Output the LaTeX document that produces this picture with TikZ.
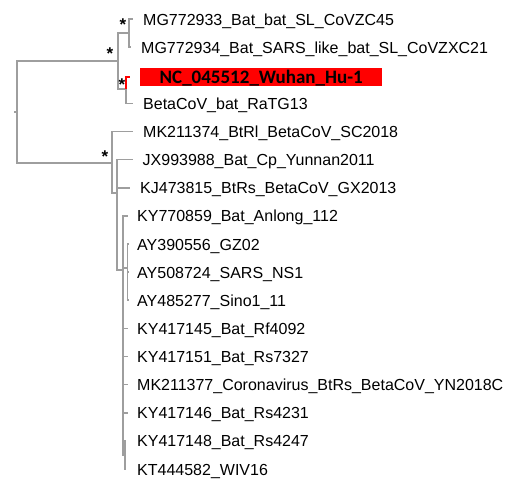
\documentclass[tikz,border=0pt]{standalone}
\usepackage{fontspec}
\setmainfont{Liberation Sans}
\newfontfamily\hlfont{Carlito}
\usepackage{tikz}
\usetikzlibrary{calc}
\definecolor{treegray}{RGB}{158,158,158}
\definecolor{hlred}{RGB}{255,0,0}
\tikzstyle{taxon} = [
  anchor=west, inner sep=0pt, text height=12pt, text depth=0pt,
  font=\fontsize{16}{18}\selectfont
]
\tikzstyle{branch} = [draw=treegray, line width=1.6pt]
\tikzstyle{tip} = [branch, shorten >=10pt]
\tikzstyle{boot} = [inner sep=0pt, font=\fontsize{17}{17}\selectfont\bfseries]

\begin{document}
\begin{tikzpicture}[x=1pt, y=-1pt]
  \useasboundingbox (0,0) rectangle (509,479);

  % taxa, upper clade
  \node[taxon] (mgA) at (143, 19) {MG772933\_Bat\_bat\_SL\_CoVZC45};
  \node[taxon] (mgB) at (141, 47.125) {MG772934\_Bat\_SARS\_like\_bat\_SL\_CoVZXC21};
  \node[taxon, fill=hlred, minimum width=242pt, minimum height=18pt,
        font=\hlfont\fontsize{19}{19}\selectfont\bfseries] (nc) at (140, 77) {NC\_045512\_Wuhan\_Hu-1};
  \node[taxon] (ratg) at (143, 103.375) {BetaCoV\_bat\_RaTG13};

  % taxa, lower clade
  \node[taxon] (mk) at (143, 131.5) {MK211374\_BtRl\_BetaCoV\_SC2018};
  \node[taxon] (jx) at (142.5, 159.625) {JX993988\_Bat\_Cp\_Yunnan2011};
  \node[taxon] (kj) at (140, 187.75) {KJ473815\_BtRs\_BetaCoV\_GX2013};
  \foreach \name/\row/\lab in {
      anlong/8/KY770859\_Bat\_Anlong\_112,
      gz/9/AY390556\_GZ02,
      ns/10/AY508724\_SARS\_NS1,
      sino/11/AY485277\_Sino1\_11,
      rf/12/KY417145\_Bat\_Rf4092,
      rsa/13/KY417151\_Bat\_Rs7327,
      yn/14/MK211377\_Coronavirus\_BtRs\_BetaCoV\_YN2018C,
      rsb/15/KY417146\_Bat\_Rs4231,
      rsc/16/KY417148\_Bat\_Rs4247,
      wiv/17/KT444582\_WIV16}
    \node[taxon] (\name) at (137, {19+28.125*(\row-1)}) {\lab};

  % internal nodes
  \coordinate (base) at (14, 112);
  \coordinate (root) at (17, 112);
  \coordinate (top) at (118, 61);
  \coordinate (mg) at (129, 33);
  \coordinate (wu) at (126, 89);
  \coordinate (low) at (112, 163);
  \coordinate (sub1) at (117, 193);
  \coordinate (sub2) at (123, 270);
  \coordinate (ay) at (127.5, 268);
  \coordinate (rs) at (125, 455);

  % branches
  \draw[branch] (base) -- (root);
  \draw[branch] (root) |- (top);
  \draw[branch] (root) |- (low);
  \draw[branch] (top) |- (mg);
  \draw[branch] (top) |- (wu);
  \draw[tip] (mg) |- (mgA.west);
  \draw[tip] (mg) |- (mgB.west);
  \draw[tip] (wu) |- (ratg.west);
  \draw[tip, draw=hlred] (wu) |- (nc.west);

  \draw[tip] (low) |- (mk.west);
  \draw[branch] (low) |- (sub1);
  \draw[tip] (sub1) |- (jx.west);
  \draw[tip] (sub1) |- (kj.west);
  \draw[branch] (sub1) |- (sub2);
  \draw[branch] (sub2) |- (ay);
  \foreach \t in {gz, ns, sino}
    \draw[tip, shorten >=9pt] (ay) |- (\t.west);
  \foreach \t in {anlong, rf, rsa, yn, rsb}
    \draw[tip, shorten >=9pt] (sub2) |- (\t.west);
  \draw[branch] (sub2) |- (rs);
  \draw[tip, shorten >=11pt] (rs) |- (rsc.west);
  \draw[tip, shorten >=11pt] (rs) |- (wiv.west);

  % support values
  \node[boot] (s1) at (123, 25) {*};
  \node[boot] (s2) at (110, 54) {*};
  \node[boot] (s3) at (122, 85) {*};
  \node[boot] (s4) at (105, 157) {*};

\end{tikzpicture}
\end{document}
